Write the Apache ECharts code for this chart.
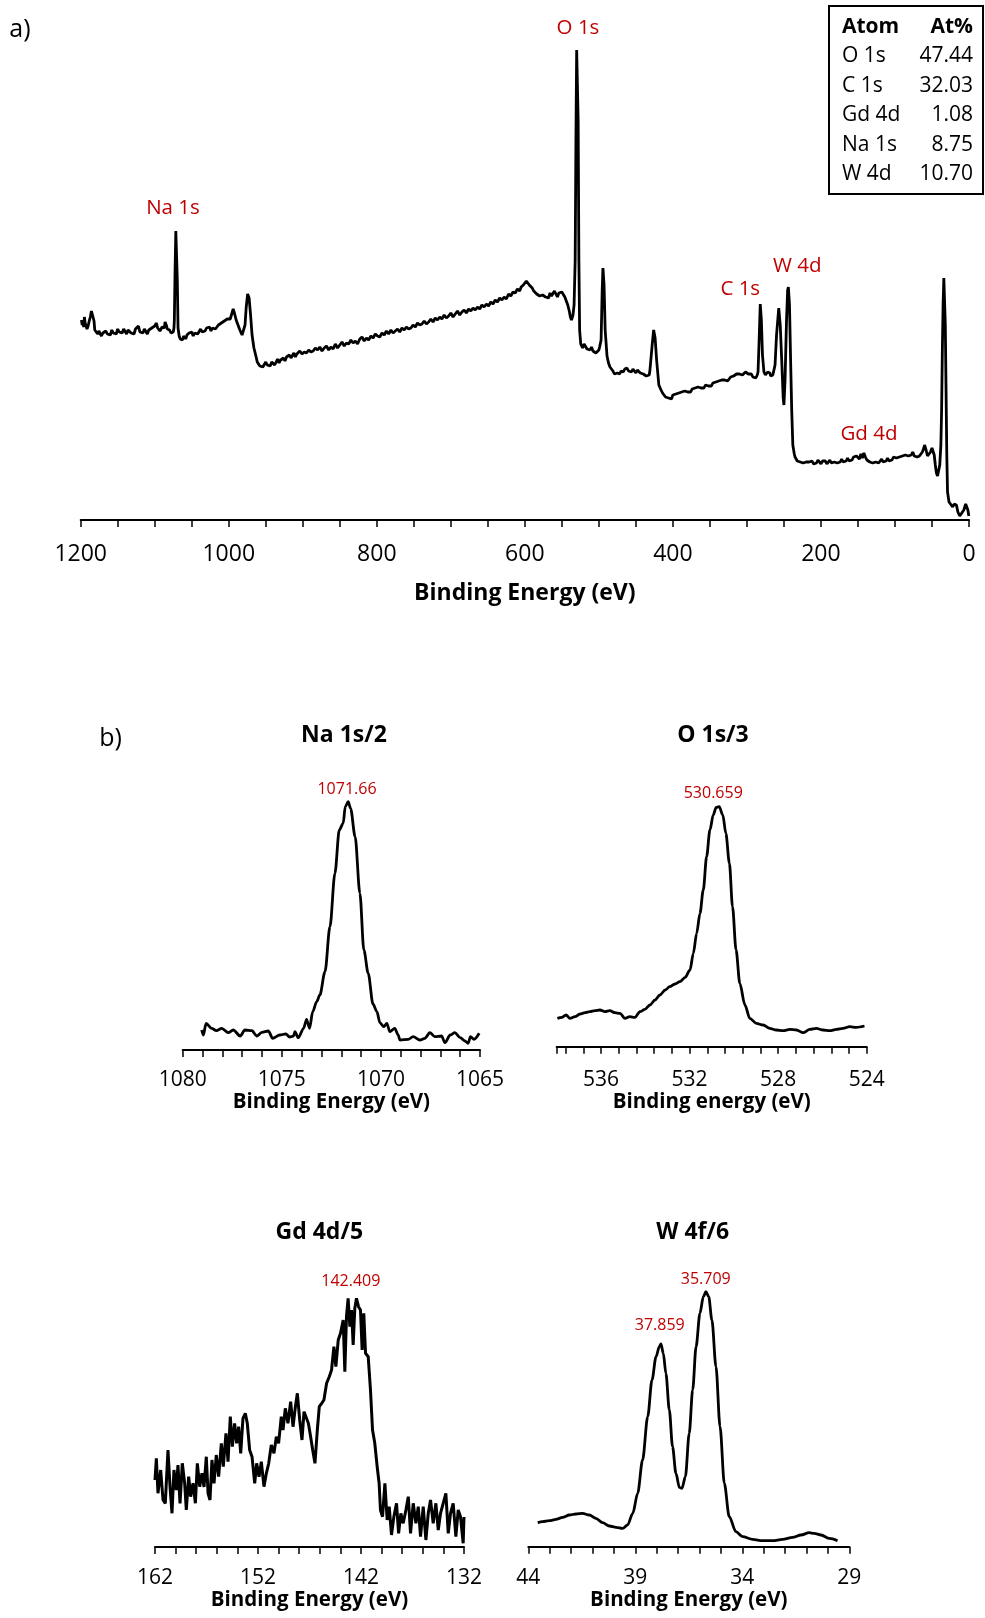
<!DOCTYPE html>
<html><head><meta charset="utf-8">
<script src="https://cdn.jsdelivr.net/npm/echarts@6/dist/echarts.min.js"></script>
<style>html,body{margin:0;padding:0;background:#fff}#c{width:985px;height:1618px}</style>
</head><body><div id="c"></div>
<script>
// ---------------- DATA ----------------
// a) survey spectrum: [binding energy (eV), intensity (a.u.)]
const surveySpectrum = [
[1199,200],[1198,195],[1197,199],[1196,193],[1195,203],[1194,197],[1193,196],[1191.5,191],[1190,194],[1188.5,199],[1187,203],[1185.5,209],[1184.5,210],[1183,207],[1182,199],[1181,190],[1180,188],[1178.5,190],[1177,186],[1175.5,189],[1174,187],[1172,184],[1170,187],[1168,185],[1166,189],[1164,186],[1162,188],[1160,185],[1158,190],[1156,187],[1154,189],[1152,186],[1150,191],[1148,188],[1146,190],[1144,187],[1142,191],[1140,189],[1138,186],[1136,190],[1134,192],[1132,187],[1130,189],[1128,186],[1126,191],[1124,189],[1122,194],[1120,188],[1118,190],[1116,187],[1114,191],[1112,189],[1110,186],[1108,190],[1106,189],[1104,192],[1102,191],[1100,194],[1098,197],[1096,192],[1095,193],[1093,189],[1092,191],[1090,193],[1089,195],[1087,192],[1086,198],[1084,194],[1083,191],[1081,189],[1080,190],[1078,187],[1077,189],[1075,188],[1074,192],[1073.5,200],[1072.5,250],[1071.5,289],[1070.5,289],[1069.5,240],[1068.5,192],[1067,184],[1065.5,181],[1064,183],[1062.5,180],[1061,184],[1059.5,182],[1058,181],[1056.5,185],[1055,183],[1053.5,187],[1052,185],[1050,188],[1048,184],[1046,187],[1044,189],[1042,186],[1040,188],[1038,191],[1036,188],[1034,190],[1032,189],[1030,192],[1028,191],[1026,193],[1024,189],[1022,192],[1020,194],[1018,191],[1016,193],[1014,195],[1012,194],[1010,197],[1008,196],[1006,199],[1004,197],[1002,201],[1001,203],[999.5,199],[998,201],[996,206],[994,211],[992,206],[990,200],[988,196],[985,190],[982,185],[980,186],[978,195],[976.5,212],[974.5,226],[972.5,222],[970.5,205],[968.5,185],[966,172],[963,163],[961.5,158],[960,157],[958,154],[956,156],[954,153],[952,155],[950,158],[948,155],[946,157],[944,154],[942,158],[940,159],[938,155],[936,158],[934,161],[932,157],[930,160],[928,158],[926,162],[924,159],[922,163],[920,161],[918,165],[916,162],[914,164],[912,167],[910,163],[908,166],[906,165],[904,169],[901,166],[898,168],[895,167],[892,170],[889,168],[886,169],[883,172],[880,170],[877,173],[874,169],[871,172],[868,174],[865,170],[862,173],[859,171],[856,176],[853,172],[850,175],[847,178],[844,174],[841,177],[838,176],[835,180],[832,177],[829,179],[826,176],[823,181],[820,183],[817,179],[814,182],[811,180],[808,184],[805,182],[802,186],[799,184],[796,183],[793,187],[790,185],[787,189],[784,186],[781,190],[778,187],[775,189],[772,191],[769,188],[766,192],[763,190],[760,193],[757,191],[754,192],[751,195],[748,193],[745,197],[742,195],[739,196],[736,199],[733,196],[730,198],[727,201],[724,198],[721,202],[718,200],[715,203],[712,201],[709,205],[706,202],[703,204],[700,207],[697,203],[694,206],[691,209],[688,205],[685,208],[682,210],[679,207],[676,211],[673,209],[670,212],[667,210],[664,213],[661,211],[658,215],[655,213],[652,216],[649,214],[646,218],[643,216],[640,220],[637,218],[634,222],[631,220],[628,223],[625,221],[622,226],[619,224],[616,228],[613,227],[610,231],[607,229],[605,233],[602,235],[600,236],[598,239],[596,237],[594,235],[592,237],[590,232],[588,229],[586,231],[584,226],[582,227],[580,224],[578,222],[576,225],[574,227],[572,223],[570,225],[568,222],[566,227],[564,224],[562,226],[560,229],[558,226],[556,223],[554,227],[552,229],[550,228],[548,226],[546,223],[544,219],[542,215],[540,209],[538.5,203],[537,200],[535,205],[533.5,215],[532,260],[531,380],[530,470],[529,470],[528,400],[527,260],[526,190],[524.5,176],[522,172],[520,176],[518,174],[516,171],[514,173],[512,170],[510,173],[508,169],[506,171],[504,167],[502,168],[500,170],[499,173],[497,180],[495.5,230],[494.5,252],[493,235],[491.5,190],[489,164],[487,157],[485,153],[483,151],[481,149],[479,146],[477,145],[475,147],[472,146],[470,149],[467,148],[465,151],[462,152],[460,149],[458,150],[456,148],[454,151],[452,149],[450,147],[448,150],[446,149],[444,147],[442,149],[440,146],[438,147],[436,144],[434,142],[432,145],[431,150],[428,175],[426,190],[424,182],[422,160],[419,135],[416,130],[414,127],[412,125],[410,123],[408,125],[406,122],[404,124],[402,121],[400,125],[398,123],[396,126],[394,124],[392,127],[390,125],[388,128],[386,126],[384,129],[382,127],[380,128],[378,130],[376,128],[374,131],[372,129],[370,132],[368,130],[366,133],[364,131],[362,132],[360,134],[358,132],[356,135],[354,133],[352,134],[350,136],[348,134],[346,137],[344,135],[342,138],[340,136],[338,139],[336,137],[334,140],[332,138],[330,140],[328,142],[326,139],[324,141],[322,143],[320,141],[318,144],[316,143],[314,146],[312,144],[310,146],[308,148],[306,145],[304,146],[302,148],[300,147],[298,146],[296,144],[294,146],[292,143],[290,144],[288,142],[286,145],[285,148],[283.5,180],[282,216],[280.5,200],[279,165],[277,148],[275,145],[274,147],[272,148],[271,146],[269,147],[268,144],[266,143],[265,145],[262,155],[260,185],[257,212],[255,195],[253,160],[251,122],[250,115],[248.5,140],[246.5,200],[245,230],[244,233],[242.5,215],[241,160],[239.5,110],[238,75],[236,66],[235,63],[233,61],[232,59],[230,60],[228,58],[226,59],[224,57],[222,59],[220,58],[218,56],[216,58],[214,57],[212,59],[210,56],[208,58],[206,57],[204,60],[202,58],[200,56],[198,59],[196,57],[194,59],[192,56],[190,58],[188,60],[186,57],[184,59],[182,58],[180,60],[178,57],[176,59],[174,58],[172,61],[170,58],[168,60],[166,59],[164,62],[162,59],[160,61],[158,60],[156,63],[154,61],[152,64],[150,62],[148,61],[146,66],[144,62],[142,67],[140,63],[138,60],[136,59],[134,58],[132,60],[130,57],[128,59],[126,58],[124,60],[122,57],[120,59],[118,61],[116,58],[114,60],[112,59],[110,62],[108,59],[106,61],[104,60],[102,63],[100,61],[98,62],[96,60],[94,63],[92,62],[90,64],[88,62],[86,65],[84,63],[82,64],[80,66],[78,65],[76,68],[74,64],[72,66],[70,63],[68,65],[67,64],[65,66],[63,68],[61,72],[60,75],[58,70],[56,64],[54,65],[52,68],[50,72],[48.5,73],[47,65],[45.5,55],[44,47],[42.5,44],[41,45],[39.5,55],[38,75],[37,110],[36,170],[35,215],[34,242],[33,243],[32,195],[31,130],[30,65],[29,28],[27,18],[25,17],[22,13],[20,16],[17,15],[15,8],[12.5,4],[10,6],[7,10],[4.5,16],[3,16],[1.5,10],[0.2,4]
];
const surveyLabelNames = ['Na 1s','O 1s','C 1s','W 4d','Gd 4d'];
const surveyLabelBE    = [1075.3, 528.2, 309, 232, 135.2];
const surveyLabelI     = [312, 491.5, 231, 254, 86];
const surveyTicks = [1200, 1000, 800, 600, 400, 200, 0];

const tableAtoms = ['O 1s','C 1s','Gd 4d','Na 1s','W 4d'];
const tableAtPct = ['47.44','32.03','1.08','8.75','10.70'];

// b) high-resolution spectra
const naSpectrum = [
[1079.04,20],[1078.96,15],[1078.82,26.7],[1078.54,21.7],[1078.3,19.3],[1078.03,21.7],[1077.7,17.3],[1077.45,20],[1077.1,14],[1076.86,20],[1076.5,19.3],[1076.27,14],[1076,17.7],[1075.68,19],[1075.46,11.7],[1075.1,15],[1074.8,16],[1074.6,13],[1074.4,14],[1074.34,18.3],[1074.17,12.3],[1073.9,21.7],[1073.75,30.7],[1073.6,21.7],[1073.44,38.3],[1073.24,48.3],[1073.08,55],[1072.82,78.3],[1072.57,123.3],[1072.32,176.7],[1072.1,220],[1071.9,226.7],[1071.8,243.3],[1071.65,248.3],[1071.53,241.7],[1071.3,213.3],[1071.06,156.7],[1070.86,100],[1070.64,76.7],[1070.4,46],[1070.2,38.3],[1070.05,27.3],[1069.85,23.3],[1069.7,26.7],[1069.55,18.3],[1069.3,21.7],[1069.13,15],[1069.04,10],[1068.62,10.7],[1068.37,13.3],[1068.03,10],[1067.78,11.7],[1067.53,17.3],[1067.28,13.3],[1066.94,14],[1066.77,7.3],[1066.5,15],[1066.27,17.3],[1066,12.3],[1065.76,9],[1065.6,6.7],[1065.48,13.3],[1065.3,10.7],[1065.04,16.7]
];
const oSpectrum = [
[537.97,28.3],[537.77,29.3],[537.58,31.7],[537.4,28.3],[537.17,30],[536.95,32.7],[536.72,34],[536.5,35],[536.27,36],[536.05,36.7],[535.82,35],[535.6,36],[535.37,34],[535.14,33.3],[534.92,28.3],[534.7,30],[534.47,29.3],[534.24,35],[534.02,37.3],[533.79,41.7],[533.56,46.7],[533.34,51.7],[533.1,56.7],[532.9,60],[532.66,62.7],[532.44,65],[532.2,69.3],[531.98,76.7],[531.83,93.3],[531.68,113.3],[531.53,133.3],[531.38,156.7],[531.23,190],[531.08,216.7],[530.93,231.7],[530.8,239.3],[530.66,240],[530.5,231.7],[530.36,213.3],[530.2,183.3],[530.06,140],[529.9,96.7],[529.73,63.3],[529.5,41.7],[529.28,28.3],[528.98,23.3],[528.68,21.7],[528.38,18.3],[528.08,16.7],[527.78,16],[527.47,17.3],[527.17,16.7],[526.87,14],[526.57,17.3],[526.27,18.3],[525.97,16.7],[525.67,16],[525.37,17.3],[525.07,18.3],[524.77,20],[524.47,19.3],[524.1,20.7]
];
const gdSpectrum = [
[162.0,67],[161.87,88.7],[161.71,53.7],[161.45,77],[161.22,47],[161.0,43.7],[160.74,97],[160.54,60],[160.35,33.7],[160.16,77],[159.93,57],[159.77,82],[159.57,43.7],[159.35,83.7],[159.12,63.7],[158.96,37],[158.73,70.3],[158.54,50.3],[158.31,63.7],[158.08,43.7],[157.89,83.7],[157.66,60.3],[157.44,73.7],[157.24,60],[157.02,90.3],[156.85,53.7],[156.66,47],[156.47,87],[156.27,63.7],[156.05,92],[155.82,70.3],[155.56,103.7],[155.37,80.3],[155.11,113.7],[154.91,85.3],[154.69,130.3],[154.49,100.3],[154.27,123.7],[154.07,103.7],[153.88,120.3],[153.68,93.7],[153.46,128.7],[153.23,133.7],[153.04,123.7],[152.81,97],[152.58,90.3],[152.32,63.7],[152.13,83.7],[151.9,70.3],[151.68,85.3],[151.42,60.3],[151.19,73.7],[150.96,83.7],[150.71,102],[150.45,93.7],[150.22,110.3],[150.0,103.7],[149.74,130.3],[149.57,117],[149.35,138.7],[149.09,123.7],[148.83,145.3],[148.6,120.3],[148.37,140.3],[148.18,153.7],[147.95,127],[147.73,107],[147.53,135.3],
[147.11,123.7],[146.89,110.3],[146.69,97],[146.47,83.7],[146.24,117],[146.05,140.3],[145.82,143.7],[145.6,147],[145.34,163.7],[145.08,170.3],[144.86,177],[144.63,200.3],[144.44,180.3],[144.21,207],[143.99,213.7],[143.73,227],[143.57,175.3],[143.41,230.3],[143.25,248.7],[143.08,220.3],[142.92,237],[142.76,202],[142.6,238.7],[142.44,248.7],[142.24,240.3],[142.05,237],[141.89,197],[141.73,233.7],[141.56,193.7],[141.3,190.3],[141.08,157],[140.88,117],[140.66,103.7],[140.43,80.3],[140.24,63.7],[140.11,37],[139.91,30.3],[139.68,63.7],[139.46,27],[139.26,40.3],[139.04,12],[138.81,30.3],[138.55,43.7],[138.35,13.7],[138.13,33.7],[137.9,23.7],[137.64,37],[137.41,50.3],[137.19,13.7],[136.93,43.7],[136.67,23.7],[136.44,40.3],[136.22,10.3],[135.96,40.3],[135.7,7],[135.47,33.7],[135.25,47],[134.99,23.7],[134.73,43.7],[134.5,17],[134.28,33.7],[134.02,43.7],[133.76,53.7],[133.53,13.7],[133.31,33.7],[133.05,43.7],[132.79,10.3],[132.56,37],[132.34,30.3],[132.08,3.7],[132.0,30]
];
const wSpectrum = [
[43.56,24],[43.33,25],[43.02,26],[42.71,27.3],[42.4,29.3],[42.08,31.7],[41.77,32.7],[41.46,33.3],[41.15,31.7],[40.84,28.3],[40.53,24],[40.21,20.7],[39.9,19.3],[39.59,18.3],[39.36,21.7],[39.12,33.3],[38.89,53.3],[38.66,86.7],[38.42,130],[38.22,166.7],[38.03,190],[37.88,200],[37.8,202.7],[37.69,193.3],[37.57,173.3],[37.41,136.7],[37.26,100],[37.1,73.3],[36.94,59.3],[36.82,58.3],[36.66,70],[36.48,113.3],[36.32,156.7],[36.16,200],[35.98,233.3],[35.82,250],[35.7,255],[35.57,250],[35.42,226.7],[35.23,180],[35.04,120],[34.84,63.3],[34.61,30],[34.3,15],[33.98,10],[33.52,7.3],[33.05,6],[32.58,6],[32.12,7.3],[31.65,9.3],[31.26,11.7],[30.87,14],[30.64,13.3],[30.32,11.7],[29.93,8.3],[29.55,6]
];
// peak annotations: [binding energy, peak intensity]
const naPeaks = [[1071.66, 248]];
const oPeaks  = [[530.659, 240.4]];
const gdPeaks = [[142.409, 253]];
const wPeaks  = [[35.709, 254], [37.859, 208]];

const panelTitles = ['Na 1s/2', 'O 1s/3', 'Gd 4d/5', 'W 4f/6'];
const panelAxisNames = ['Binding Energy (eV)', 'Binding energy (eV)', 'Binding Energy (eV)', 'Binding Energy (eV)'];

// ---------------- CHART ----------------
const FONT = "'Open Sans', 'Noto Sans', sans-serif";
const RED = '#C00000';
const chart = echarts.init(document.getElementById('c'), null, {renderer: 'canvas'});

const grids = [
  {left: 80.7, top: 0, width: 888.3, height: 520},
  {left: 182.7, top: 790, width: 297.3, height: 260},
  {left: 556.7, top: 786.7, width: 310, height: 260},
  {left: 155, top: 1277, width: 309, height: 270},
  {left: 528.3, top: 1276.7, width: 321, height: 270}
];
const near = (a, b) => Math.abs(a - b) < 1e-6;
function mkX(gi, min, max, interval, isLabel, name, fs, margin, nameGap, nameFs) {
  return {
    type: 'value', gridIndex: gi, min: min, max: max, interval: interval, inverse: true,
    splitLine: {show: false},
    axisLine: {show: true, onZero: false, lineStyle: {color: '#000', width: 2}},
    axisTick: {show: true, length: 7, lineStyle: {color: '#000', width: 1.5}},
    axisLabel: {show: true, margin: margin, color: '#000', fontFamily: FONT, fontSize: fs,
      formatter: v => isLabel(v) ? String(Math.round(v)) : ''},
    name: name, nameLocation: 'middle', nameGap: nameGap,
    nameTextStyle: {color: '#000', fontFamily: FONT, fontSize: nameFs, fontWeight: 'bold'}
  };
}
function mkY(gi, max) {
  return {type: 'value', gridIndex: gi, min: 0, max: max, show: false, splitLine: {show: false}};
}
const lineStyle = w => ({color: '#000', width: w});
function lineSeries(i, data, w, smooth) {
  return {type: 'line', xAxisIndex: i, yAxisIndex: i, data: data, symbol: 'none', showSymbol: false,
    smooth: smooth, smoothMonotone: 'x', lineStyle: lineStyle(w), silent: true, z: 2};
}
function peakSeries(i, data, offsetX) {
  return {type: 'scatter', xAxisIndex: i, yAxisIndex: i, data: data, symbolSize: 0,
    itemStyle: {color: 'rgba(0,0,0,0)'}, silent: true, z: 3, clip: false,
    label: {show: true, position: 'top', distance: 5, offset: [offsetX, 0], color: RED, opacity: 1,
      fontFamily: FONT, fontSize: 16, formatter: p => String(p.value[0])}};
}

const surveyLabelData = surveyLabelNames.map((n, i) => ({name: n, value: [surveyLabelBE[i], surveyLabelI[i]]}));

const tableEls = [];
tableEls.push({type: 'rect', shape: {x: 829, y: 6, width: 154, height: 188},
  style: {fill: 'transparent', stroke: '#000', lineWidth: 2}});
const rowY = i => 27 + i * 29.4;
tableEls.push({type: 'text', x: 842, y: rowY(0), style: {text: 'Atom', fill: '#000', font: 'bold 21px ' + FONT, textAlign: 'left', align: 'left', textVerticalAlign: 'middle', verticalAlign: 'middle'}});
tableEls.push({type: 'text', x: 973, y: rowY(0), style: {text: 'At%', fill: '#000', font: 'bold 21px ' + FONT, textAlign: 'right', align: 'right', textVerticalAlign: 'middle', verticalAlign: 'middle'}});
tableAtoms.forEach((a, i) => {
  tableEls.push({type: 'text', x: 842, y: rowY(i + 1), style: {text: a, fill: '#000', font: '21px ' + FONT, textAlign: 'left', align: 'left', textVerticalAlign: 'middle', verticalAlign: 'middle'}});
  tableEls.push({type: 'text', x: 973, y: rowY(i + 1), style: {text: tableAtPct[i], fill: '#000', font: '21px ' + FONT, textAlign: 'right', align: 'right', textVerticalAlign: 'middle', verticalAlign: 'middle'}});
});
const txt = (t, x, y, font) => ({type: 'text', x: x, y: y, style: {text: t, fill: '#000', font: font, textAlign: 'center', align: 'center', textVerticalAlign: 'middle', verticalAlign: 'middle'}});
const titleEls = [
  txt('a)', 20, 30, '25px ' + FONT),
  txt('b)', 110.5, 738.5, '25px ' + FONT),
  txt(panelTitles[0], 344, 735, 'bold 23px ' + FONT),
  txt(panelTitles[1], 713, 735, 'bold 23px ' + FONT),
  txt(panelTitles[2], 319.3, 1232.3, 'bold 23px ' + FONT),
  txt(panelTitles[3], 692.7, 1232.3, 'bold 23px ' + FONT)
];

const option = {
  backgroundColor: '#fff',
  animation: false,
  grid: grids,
  xAxis: [
    mkX(0, 0, 1200, 50, v => surveyTicks.some(t => near(t, v)), 'Binding Energy (eV)', 23, 22.5, 61.5, 23),
    mkX(1, 1065, 1080, 1, v => near((v - 1065) / 5, Math.round((v - 1065) / 5)), panelAxisNames[0], 21, 19.5, 41.5, 20.5),
    mkX(2, 524, 538, 0.8, v => near((v - 524) / 4, Math.round((v - 524) / 4)) && v < 537, panelAxisNames[1], 21, 22.5, 44.5, 20.5),
    mkX(3, 132, 162, 2, v => near((v - 132) / 10, Math.round((v - 132) / 10)), panelAxisNames[2], 21, 20.5, 41, 20.5),
    mkX(4, 29, 44, 1, v => near((v - 29) / 5, Math.round((v - 29) / 5)), panelAxisNames[3], 21, 21, 41.4, 20.5)
  ],
  yAxis: [mkY(0, 520), mkY(1, 260), mkY(2, 260), mkY(3, 270), mkY(4, 270)],
  series: [
    lineSeries(0, surveySpectrum, 2.8, false),
    {type: 'scatter', xAxisIndex: 0, yAxisIndex: 0, data: surveyLabelData, symbolSize: 0,
      itemStyle: {color: 'rgba(0,0,0,0)'}, silent: true, z: 3, clip: false,
      label: {show: true, position: 'inside', color: RED, opacity: 1, fontFamily: FONT, fontSize: 20.5,
        formatter: p => p.name}},
    lineSeries(1, naSpectrum, 2.8, 0.3),
    peakSeries(1, naPeaks, -1),
    lineSeries(2, oSpectrum, 2.8, 0.3),
    peakSeries(2, oPeaks, -6),
    lineSeries(3, gdSpectrum, 3, false),
    peakSeries(3, gdPeaks, -6),
    lineSeries(4, wSpectrum, 2.8, 0.3),
    peakSeries(4, wPeaks, 0)
  ],
  graphic: {elements: tableEls.concat(titleEls)}
};
chart.setOption(option);
</script>
</body></html>
